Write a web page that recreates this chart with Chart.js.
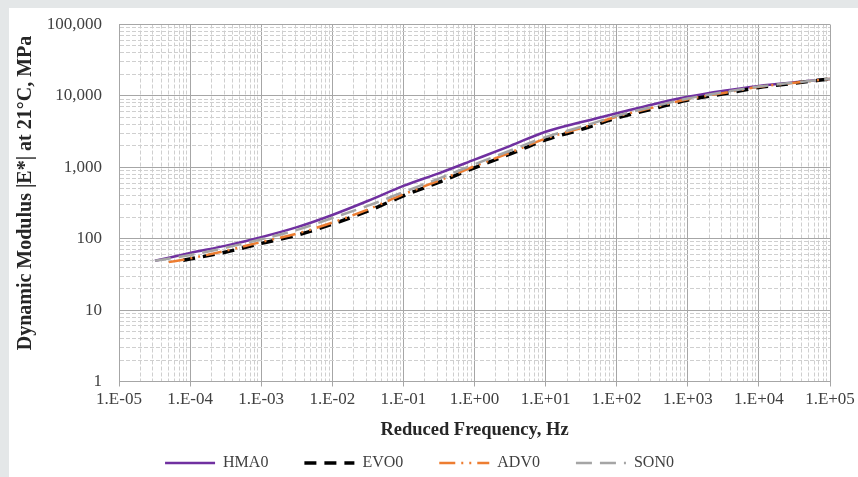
<!DOCTYPE html>
<html>
<head>
<meta charset="utf-8">
<script src="https://cdn.jsdelivr.net/npm/chart.js@4"></script>
<style>
  html, body { margin: 0; padding: 0; background: #e4e7e8; }
  #box { position: absolute; left: 9px; top: 8px; width: 849px; height: 469px; background: #fff; }
</style>
</head>
<body>
<div id="box"><canvas id="chart_mod"></canvas></div>
<script>
// reduced frequency (Hz) and |E*| (MPa)
const freqHz = [3.2e-5, 1e-4, 3.2e-4, 1e-3, 3.2e-3, 1e-2, 3.2e-2, 0.1, 0.32, 1, 3.2, 10, 32, 100, 320, 1000, 3200, 1e4, 3.2e4, 1e5];
const evoFreq = [8e-5, 3.2e-4, 1e-3, 3.2e-3, 1e-2, 3.2e-2, 0.1, 0.32, 1, 3.2, 10, 32, 100, 320, 1000, 3200, 1e4, 3.2e4, 1e5];
const advFreq = [5e-5, 1e-4, 3.2e-4, 1e-3, 3.2e-3, 1e-2, 3.2e-2, 0.1, 0.32, 1, 3.2, 10, 32, 100, 320, 1000, 3200, 1e4, 3.2e4, 1e5];

const hma0 = [49, 63, 80, 105, 145, 215, 340, 550, 830, 1280, 2000, 3150, 4300, 5700, 7600, 9700, 11800, 13800, 15500, 17250];
const evo0 = [50, 65, 86, 112, 160, 245, 398, 622, 985, 1540, 2420, 3400, 4900, 6560, 8730, 10700, 13150, 15100, 17250];
const adv0 = [47, 53, 68, 90, 118, 168, 258, 418, 655, 1035, 1610, 2530, 3560, 5120, 6850, 9000, 11000, 13400, 15300, 17300];
const son0 = [49, 59, 75, 98, 133, 195, 290, 450, 700, 1100, 1720, 2650, 3700, 5250, 7050, 9200, 11300, 13500, 15400, 17300];

const seriesNames = ['HMA0', 'EVO0', 'ADV0', 'SON0'];
const xTickLabels = ['1.E-05', '1.E-04', '1.E-03', '1.E-02', '1.E-01', '1.E+00', '1.E+01', '1.E+02', '1.E+03', '1.E+04', '1.E+05'];
const yTickLabels = ['1', '10', '100', '1,000', '10,000', '100,000'];

const FONT = "'Liberation Serif', 'Times New Roman', serif";

function pts(xs, ys) {
  return xs.map((x, i) => ({ x: x, y: ys[i] }));
}

function isDecade(v) {
  const l = Math.log10(v);
  return Math.abs(l - Math.round(l)) < 1e-9;
}

// excel style log grid: 1..9 in every decade
function logTicks(scale) {
  const lo = Math.round(Math.log10(scale.options.min));
  const hi = Math.round(Math.log10(scale.options.max));
  const ticks = [];
  for (let e = lo; e < hi; e++) {
    for (let d = 1; d < 10; d++) ticks.push({ value: d * Math.pow(10, e) });
  }
  ticks.push({ value: Math.pow(10, hi) });
  scale.ticks = ticks;
}

function gridColor(ctx) {
  if (!ctx.tick) return '#a6a6a6';
  return isDecade(ctx.tick.value) ? '#a6a6a6' : '#cfcfcf';
}
function gridDash(ctx) {
  if (!ctx.tick) return [];
  return isDecade(ctx.tick.value) ? [] : [4, 2];
}

new Chart(document.getElementById('chart_mod'), {
  type: 'line',
  data: {
    datasets: [{
      label: seriesNames[0],
      data: pts(freqHz, hma0),
      borderColor: '#7030a0',
      borderWidth: 2.5,
      order: 3
    }, {
      label: seriesNames[1],
      data: pts(evoFreq, evo0),
      borderColor: '#000000',
      borderWidth: 3.5,
      borderDash: [12, 8],
      order: 2
    }, {
      label: seriesNames[2],
      data: pts(advFreq, adv0),
      borderColor: '#ed7d31',
      borderWidth: 2.5,
      borderDash: [16, 6, 2, 6, 2, 6],
      order: 1
    }, {
      label: seriesNames[3],
      data: pts(freqHz, son0),
      borderColor: '#a5a5a5',
      borderWidth: 2.5,
      borderDash: [16, 8],
      order: 0
    }]
  },
  options: {
    responsive: true,
    maintainAspectRatio: false,
    animation: false,
    layout: { padding: { left: 0, right: 28, top: 16.5, bottom: 0 } },
    elements: {
      point: { radius: 0 },
      line: { fill: false, cubicInterpolationMode: 'monotone', backgroundColor: 'transparent' }
    },
    scales: {
      x: {
        type: 'logarithmic',
        min: 1e-5,
        max: 1e5,
        afterBuildTicks: logTicks,
        afterFit: function (scale) { scale.height = 37.5; },
        grid: {
          color: gridColor,
          lineWidth: 1,
          tickLength: 5,
          tickColor: function (ctx) { return ctx.tick && isDecade(ctx.tick.value) ? '#a6a6a6' : 'rgba(0,0,0,0)'; }
        },
        border: { color: '#a6a6a6', dash: gridDash },
        ticks: {
          autoSkip: false,
          maxRotation: 0,
          padding: 3,
          color: '#404040',
          font: { family: FONT, size: 17 },
          callback: function (v) {
            return isDecade(v) ? xTickLabels[Math.round(Math.log10(v)) + 5] : '';
          }
        },
        title: {
          display: true,
          text: 'Reduced Frequency, Hz',
          color: '#262626',
          font: { family: FONT, size: 18.5, weight: 'bold' },
          padding: { top: 0, bottom: -22.8 }
        }
      },
      y: {
        type: 'logarithmic',
        min: 1,
        max: 1e5,
        afterBuildTicks: logTicks,
        afterFit: function (scale) { scale.width = 110; },
        grid: { color: gridColor, lineWidth: 1, tickLength: 12, tickColor: 'rgba(0,0,0,0)' },
        border: { color: '#a6a6a6', dash: gridDash },
        ticks: {
          autoSkip: false,
          padding: 5,
          color: '#404040',
          font: { family: FONT, size: 17 },
          callback: function (v) {
            return isDecade(v) ? yTickLabels[Math.round(Math.log10(v))] : '';
          }
        },
        title: {
          display: true,
          // leading no-break spaces nudge the rotated title up like the original
          text: '\u00a0\u00a0\u00a0\u00a0Dynamic Modulus |E*| at 21°C, MPa',
          color: '#262626',
          font: { family: FONT, size: 20, weight: 'bold' },
          padding: { top: 5, bottom: 0 }
        }
      }
    },
    plugins: {
      tooltip: { enabled: false },
      legend: {
        position: 'bottom',
        maxHeight: 58,
        labels: {
          usePointStyle: true,
          pointStyle: 'line',
          pointStyleWidth: 50,
          padding: 36,
          color: '#404040',
          font: { family: FONT, size: 16 },
          sort: function (a, b) { return a.datasetIndex - b.datasetIndex; },
          generateLabels: function (chart) {
            const items = Chart.defaults.plugins.legend.labels.generateLabels(chart);
            items.forEach(function (it) {
              const ds = chart.data.datasets[it.datasetIndex];
              it.lineDash = ds.borderDash || [];
              it.lineWidth = ds.borderWidth;
              it.strokeStyle = ds.borderColor;
            });
            return items;
          }
        }
      }
    }
  }
});
</script>
</body>
</html>
